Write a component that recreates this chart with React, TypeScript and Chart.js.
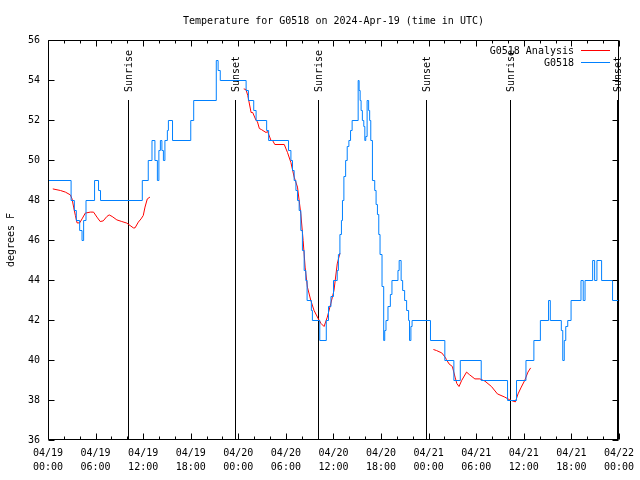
import React, { useEffect, useRef } from "react";
import { Chart, registerables } from "chart.js";

Chart.register(...registerables);

const TITLE = "Temperature for G0518 on 2024-Apr-19 (time in UTC)";
const Y_TITLE = "degrees F";
const SERIES_NAMES = ["G0518 Analysis", "G0518"];
const SERIES_COLORS = ["#ff0000", "#0080ff"];
const DAY_LABELS = ["04/19", "04/20", "04/21", "04/22"];
const HOUR_LABELS = ["00:00", "06:00", "12:00", "18:00"];
const Y_MIN = 36;
const Y_MAX = 56;
const X_MIN = 0;
const X_MAX = 72;

// hours since 04/19 00:00 UTC
const SUN_TIMES = [10.15, 23.6, 34.1, 47.65, 58.2, 71.8];
const SUN_LABELS = ["Sunrise", "Sunset", "Sunrise", "Sunset", "Sunrise", "Sunset"];

// G0518 observations (value holds until next change)
const OBS_HOURS = [
  0.0, 2.85, 3.26, 3.51, 3.93, 4.23, 4.43, 4.73, 5.81, 6.31, 6.56, 11.83, 12.58, 13.05,
  13.42, 13.73, 13.92, 14.11, 14.3, 14.49, 14.68, 14.99, 15.12, 15.64, 17.94, 18.31, 21.16,
  21.39, 21.66, 24.92, 25.21, 25.88, 26.18, 27.51, 27.76, 30.27, 30.57, 30.77, 30.98, 31.2,
  31.4, 31.61, 31.82, 32.02, 32.24, 32.45, 32.61, 33.15, 33.28, 34.21, 35.03, 35.31, 35.62,
  35.94, 36.41, 36.56, 36.75, 36.94, 37.07, 37.25, 37.47, 37.67, 37.88, 38.09, 38.29, 39.05,
  39.17, 39.3, 39.42, 39.58, 39.76, 39.89, 40.01, 40.18, 40.37, 40.5, 40.64, 40.85, 41.14,
  41.31, 41.48, 41.65, 41.81, 42.06, 42.27, 42.4, 42.56, 42.81, 43.11, 43.31, 44.07, 44.22,
  44.47, 44.66, 44.91, 45.16, 45.41, 45.53, 45.7, 45.85, 48.17, 49.98, 51.12, 51.93, 54.57,
  57.89, 59.02, 60.21, 61.21, 62.03, 63.06, 63.28, 64.67, 64.85, 65.04, 65.23, 65.48, 65.9,
  67.15, 67.43, 67.66, 68.62, 68.87, 69.16, 69.75, 71.13, 72.0,
];
const OBS_TEMPS = [
  49, 48, 47.5, 47, 46.5, 46, 47, 48, 49, 48.5, 48, 49, 50, 51,
  50, 49, 50.5, 51, 50.5, 50, 51, 51.5, 52, 51, 52, 53, 55,
  54.5, 54, 53.5, 53, 52.5, 52, 51.5, 51, 50.5, 50, 49.5, 49, 48.5,
  48, 47.5, 46.5, 45.5, 44.5, 44, 43, 42.5, 42, 41, 42, 42.7, 43.2,
  44, 44.5, 45.3, 46.3, 47, 48, 49.2, 50, 50.7, 51, 51.5, 52, 54,
  53.5, 53, 52.5, 52, 51.7, 51, 51.2, 53, 52.5, 52, 51, 49, 48.5,
  47.8, 47.3, 46.3, 45.3, 43.7, 41, 41.5, 42, 42.7, 43.3, 44, 44.5, 45,
  44, 43.5, 43, 42.5, 42, 41, 41.7, 42, 41, 40, 39, 40, 39,
  38, 39, 40, 41, 42, 43, 42, 41.5, 40, 41, 41.7, 42, 43,
  44, 43, 44, 45, 44, 45, 44, 43, 43,
];

// G0518 Analysis (null = gap)
const ANA_HOURS = [
  0.54, 1.51, 2.13, 2.76, 2.97, 3.17, 3.39, 3.6, 3.93, 4.23, 4.64, 5.27, 5.68, 6.11, 6.52,
  6.9, 7.36, 7.65, 8.03, 8.62, 9.24, 9.87, 10.29, 10.7, 10.91, 11.33, 11.67, 11.95, 12.17,
  12.46, 12.79,
  18.0,
  24.62, 24.9, 25.13, 25.55, 25.75, 26.18, 26.34, 26.59, 26.84, 27.43, 27.63, 28.06, 28.26,
  28.54, 29.73, 30.14, 30.57, 30.98, 31.4, 31.82, 32.11, 32.36, 32.65, 33.08, 33.49, 34.03,
  34.37, 34.75, 35.16, 35.59, 36.0, 36.41, 36.75,
  42.0,
  48.54, 48.92, 49.59, 50.01, 50.18, 50.51, 50.93, 51.27, 51.49, 51.77, 52.1, 52.72, 53.06,
  53.77, 54.4, 55.03, 55.86, 56.61, 57.54, 58.17, 58.87, 59.21, 59.62, 60.05, 60.46, 60.8,
];
const ANA_TEMPS = [
  48.58, 48.5, 48.42, 48.28, 48.08, 47.67, 47.25, 46.88, 46.88, 47.08, 47.37, 47.42, 47.42,
  47.17, 46.95, 46.98, 47.2, 47.28, 47.2, 47.03, 46.95, 46.87, 46.75, 46.63, 46.63, 46.92,
  47.08, 47.25, 47.67, 48.08, 48.17,
  null,
  53.58, 53.55, 53.25, 52.4, 52.4, 52.0, 51.95, 51.6, 51.55, 51.4, 51.45, 51.0, 51.0,
  50.8, 50.8, 50.4, 49.9, 49.17, 48.67, 47.33, 46.0, 44.67, 43.67, 43.0, 42.5, 42.08,
  41.85, 41.7, 42.17, 42.83, 43.5, 44.83, 45.37,
  null,
  40.55, 40.5, 40.38, 40.17, 40.05, 39.83, 39.7, 39.17, 38.85, 38.7, 39.0, 39.42, 39.3,
  39.08, 39.08, 38.97, 38.7, 38.33, 38.17, 38.03, 37.93, 38.33, 38.67, 39.0, 39.42, 39.63,
];

const FONT = "DejaVu Sans Mono";

const decorPlugin = {
  id: "gnuplotDecor",
  beforeDatasetsDraw(chart: any) {
    const { ctx, chartArea } = chart;
    const xs = chart.scales.x;
    const { top, bottom } = chartArea;
    const h = bottom - top;
    ctx.save();
    ctx.strokeStyle = "#000";
    ctx.lineWidth = 1;
    ctx.fillStyle = "#000";
    ctx.font = `10px ${FONT}`;
    SUN_TIMES.forEach((t, i) => {
      const px = Math.round(xs.getPixelForValue(t)) + 0.5;
      const yTop = Math.round(bottom - 0.85 * h);
      ctx.beginPath();
      ctx.moveTo(px, bottom);
      ctx.lineTo(px, yTop);
      ctx.stroke();
      ctx.save();
      ctx.translate(px + 1, bottom - 0.87 * h);
      ctx.rotate(-Math.PI / 2);
      ctx.textAlign = "left";
      ctx.textBaseline = "middle";
      ctx.fillText(SUN_LABELS[i], 0, 0);
      ctx.restore();
    });
    ctx.restore();
    // half-pixel shift so 1px data lines render crisp
    ctx.save();
    ctx.translate(0.5, 0.5);
  },
  afterDatasetsDraw(chart: any) {
    const { ctx, chartArea } = chart;
    ctx.restore();
    const xs = chart.scales.x;
    const ys = chart.scales.y;
    const { left, right, top, bottom } = chartArea;
    ctx.save();
    ctx.strokeStyle = "#000";
    ctx.lineWidth = 1;
    // border
    const L = Math.round(left) + 0.5;
    const R = Math.round(right) - 0.5;
    const T = Math.round(top) + 0.5;
    const B = Math.round(bottom) - 0.5;
    ctx.beginPath();
    ctx.rect(L, T, R - L, B - T);
    ctx.stroke();
    // x ticks every 2 hours, major every 6
    ctx.beginPath();
    for (let v = X_MIN; v <= X_MAX; v += 2) {
      const px = Math.round(xs.getPixelForValue(v)) + 0.5;
      const len = v % 6 === 0 ? 6 : 3;
      ctx.moveTo(px, B);
      ctx.lineTo(px, B - len);
      ctx.moveTo(px, T);
      ctx.lineTo(px, T + len);
    }
    for (let v = Y_MIN; v <= Y_MAX; v += 2) {
      const py = Math.round(ys.getPixelForValue(v)) + 0.5;
      ctx.moveTo(L, py);
      ctx.lineTo(L + 6, py);
      ctx.moveTo(R, py);
      ctx.lineTo(R - 6, py);
    }
    ctx.stroke();

    ctx.fillStyle = "#000";
    ctx.font = `10px ${FONT}`;
    // title
    ctx.textAlign = "center";
    ctx.textBaseline = "middle";
    ctx.fillText(TITLE, (left + right) / 2, 21);
    // y title
    ctx.save();
    ctx.translate(11, 240);
    ctx.rotate(-Math.PI / 2);
    ctx.textAlign = "center";
    ctx.textBaseline = "middle";
    ctx.fillText(Y_TITLE, 0, 0);
    ctx.restore();
    // legend
    const rows = [51, 63];
    SERIES_NAMES.forEach((name, i) => {
      ctx.textAlign = "right";
      ctx.textBaseline = "middle";
      ctx.fillText(name, 574, rows[i]);
      ctx.strokeStyle = SERIES_COLORS[i];
      ctx.beginPath();
      ctx.moveTo(581, rows[i] - 0.5);
      ctx.lineTo(610, rows[i] - 0.5);
      ctx.stroke();
    });
    ctx.restore();
  },
};

export default function App() {
  const canvasRef = useRef<HTMLCanvasElement | null>(null);

  useEffect(() => {
    if (!canvasRef.current) return;
    const obsData = OBS_HOURS.map((x, i) => ({ x, y: OBS_TEMPS[i] }));
    const anaData = ANA_HOURS.map((x, i) => ({ x, y: ANA_TEMPS[i] }));
    const chart = new Chart(canvasRef.current, {
      type: "line",
      data: {
        datasets: [
          {
            label: SERIES_NAMES[0],
            data: anaData as any,
            borderColor: SERIES_COLORS[0],
            backgroundColor: SERIES_COLORS[0],
            borderWidth: 1,
            pointRadius: 0,
            spanGaps: false,
            fill: false,
            order: 1,
          },
          {
            label: SERIES_NAMES[1],
            data: obsData as any,
            borderColor: SERIES_COLORS[1],
            backgroundColor: SERIES_COLORS[1],
            borderWidth: 1,
            pointRadius: 0,
            stepped: "before",
            fill: false,
            order: 0,
          },
        ],
      },
      options: {
        animation: false,
        responsive: true,
        maintainAspectRatio: false,
        devicePixelRatio: 1,
        layout: { padding: { top: 40, right: 18, left: 0, bottom: 0 } },
        plugins: {
          legend: { display: false },
          tooltip: { enabled: false },
          title: { display: false },
        },
        scales: {
          x: {
            type: "linear",
            min: X_MIN,
            max: X_MAX,
            grid: { display: false, drawTicks: false },
            border: { display: false },
            afterFit: (scale: any) => {
              scale.height = 40;
            },
            ticks: {
              stepSize: 6,
              autoSkip: false,
              maxRotation: 0,
              minRotation: 0,
              padding: 6,
              color: "#000",
              font: { family: FONT, size: 10, lineHeight: 1.4 },
              callback: (v: any) => {
                const n = Number(v);
                if (n % 6 !== 0) return "";
                const day = DAY_LABELS[Math.floor(n / 24)];
                const hr = HOUR_LABELS[(n % 24) / 6];
                return [day, hr];
              },
            },
          },
          y: {
            type: "linear",
            min: Y_MIN,
            max: Y_MAX,
            grid: { display: false, drawTicks: false },
            border: { display: false },
            afterFit: (scale: any) => {
              scale.width = 48;
            },
            ticks: {
              stepSize: 2,
              padding: 8,
              color: "#000",
              font: { family: FONT, size: 10 },
            },
          },
        },
      },
      plugins: [decorPlugin],
    });
    return () => chart.destroy();
  }, []);

  return (
    <div style={{ position: "absolute", left: 0, top: 0, width: 640, height: 480, background: "#fff" }}>
      <canvas ref={canvasRef} />
    </div>
  );
}
